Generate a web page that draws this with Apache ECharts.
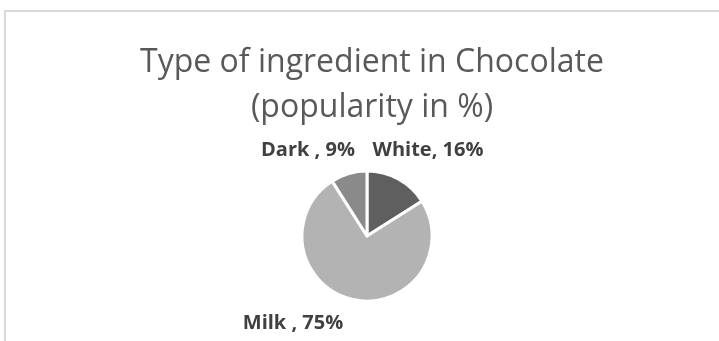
<!DOCTYPE html>
<html>
<head>
<meta charset="utf-8">
<script src="https://cdn.jsdelivr.net/npm/echarts@6/dist/echarts.min.js"></script>
<style>
  html, body { margin: 0; padding: 0; background: #fff; }
  #chart { width: 719px; height: 341px; }
</style>
</head>
<body>
<div id="chart"></div>
<script>
// chart data
var categories = ["White", "Milk ", "Dark "];
var popularity = [16, 75, 9];
var sliceColors = ["#5f5f5f", "#b3b3b3", "#8a8a8a"];
// label centres, relative to the pie centre (Excel puts them there)
var labelOffsets = [[61, -86], [-74, 87], [-59, -86]];

var pieCx = 367, pieCy = 236;

var myChart = echarts.init(document.getElementById("chart"));
myChart.setOption({
  animation: false,
  title: {
    text: "Type of ingredient in Chocolate\n(popularity in %)",
    left: 367,
    top: 35,
    textAlign: "center",
    textStyle: {
      fontFamily: "Open Sans",
      fontWeight: "normal",
      fontSize: 32,
      lineHeight: 45,
      color: "#595959"
    }
  },
  graphic: [
    {
      type: "rect",
      shape: { x: 5, y: 11, width: 800, height: 400 },
      style: { fill: "none", stroke: "#d9d9d9", lineWidth: 2 },
      silent: true
    }
  ],
  series: [
    {
      type: "pie",
      center: [pieCx, pieCy],
      radius: 65,
      startAngle: 90,
      clockwise: true,
      itemStyle: { borderColor: "#fff", borderWidth: 3 },
      label: {
        show: true,
        position: "outside",
        formatter: "{b}, {c}%",
        fontFamily: "Open Sans",
        fontWeight: "bold",
        fontSize: 20,
        color: "#404040"
      },
      labelLine: { show: false },
      labelLayout: function (p) {
        var o = labelOffsets[p.dataIndex];
        return {
          x: pieCx + o[0],
          y: pieCy + o[1],
          align: "center",
          verticalAlign: "middle"
        };
      },
      data: categories.map(function (c, i) {
        return { name: c, value: popularity[i], itemStyle: { color: sliceColors[i] } };
      })
    }
  ]
});
</script>
</body>
</html>
